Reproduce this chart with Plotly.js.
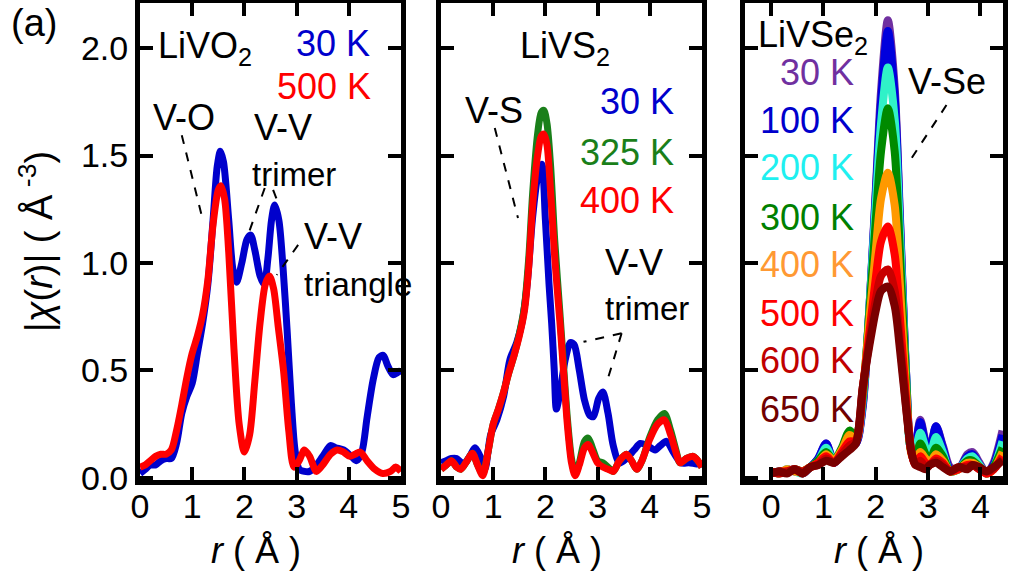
<!DOCTYPE html>
<html>
<head>
<meta charset="utf-8">
<script src="https://cdn.plot.ly/plotly-3.0.1.min.js"></script>
<style>html,body{margin:0;padding:0;background:#fff;}#chart{width:1016px;height:587px;}</style>
</head>
<body>
<div id="chart"></div>
<script>
// ---------- Panel 1: LiVO2 ----------
const rVO_30 = [0,0.1,0.2,0.3,0.4,0.5,0.6,0.7,0.8,0.9,1.0,1.1,1.2,1.3,1.4,1.48,1.54,1.6,1.7,1.78,1.85,1.95,2.05,2.12,2.2,2.3,2.38,2.45,2.52,2.58,2.66,2.74,2.82,2.9,2.97,3.05,3.15,3.25,3.35,3.5,3.65,3.75,3.9,4.05,4.15,4.25,4.35,4.47,4.58,4.66,4.75,4.85,4.93,5.0];
const chiVO_30 = [0.02,0.04,0.06,0.06,0.08,0.09,0.09,0.16,0.3,0.38,0.44,0.58,0.72,0.9,1.2,1.45,1.52,1.47,1.2,0.97,0.91,1.0,1.11,1.13,1.06,0.94,0.9,1.02,1.2,1.27,1.2,0.98,0.68,0.35,0.13,0.04,0.03,0.03,0.05,0.1,0.15,0.14,0.13,0.1,0.08,0.12,0.28,0.46,0.56,0.57,0.52,0.48,0.49,0.5];
const rVO_500 = [0,0.1,0.2,0.3,0.4,0.5,0.6,0.7,0.8,0.9,1.0,1.1,1.2,1.3,1.4,1.5,1.55,1.62,1.7,1.8,1.9,2.0,2.1,2.2,2.3,2.4,2.48,2.56,2.65,2.75,2.85,2.95,3.05,3.15,3.25,3.38,3.5,3.65,3.78,3.9,4.02,4.12,4.22,4.35,4.5,4.65,4.8,4.9,5.0];
const chiVO_500 = [0.05,0.06,0.08,0.1,0.11,0.11,0.13,0.22,0.34,0.47,0.58,0.66,0.76,0.92,1.18,1.34,1.36,1.3,1.05,0.6,0.25,0.12,0.2,0.45,0.72,0.9,0.94,0.88,0.7,0.5,0.22,0.05,0.08,0.13,0.1,0.03,0.06,0.11,0.13,0.12,0.1,0.11,0.12,0.08,0.04,0.02,0.03,0.05,0.03];

// ---------- Panel 2: LiVS2 ----------
const rVS_30 = [0,0.1,0.2,0.3,0.43,0.55,0.65,0.75,0.84,0.95,1.07,1.2,1.32,1.45,1.55,1.65,1.75,1.85,1.93,2.0,2.07,2.12,2.17,2.21,2.28,2.38,2.48,2.55,2.65,2.75,2.85,2.92,3.02,3.1,3.2,3.3,3.42,3.55,3.7,3.82,3.95,4.1,4.2,4.32,4.45,4.6,4.75,4.9,5.0];
const chiVS_30 = [0.07,0.08,0.09,0.09,0.065,0.1,0.14,0.1,0.04,0.2,0.27,0.38,0.55,0.63,0.72,0.9,1.2,1.4,1.46,1.2,0.9,0.72,0.5,0.32,0.4,0.55,0.63,0.62,0.5,0.36,0.29,0.285,0.37,0.4,0.3,0.15,0.07,0.09,0.13,0.16,0.15,0.13,0.15,0.17,0.12,0.07,0.07,0.065,0.065];
const rVS_hot = [0,0.1,0.2,0.3,0.38,0.5,0.6,0.7,0.8,0.9,1.0,1.1,1.2,1.3,1.4,1.5,1.6,1.68,1.76,1.85,1.92,1.97,2.03,2.1,2.18,2.28,2.36,2.42,2.5,2.57,2.65,2.75,2.82,2.9,3.0,3.1,3.2,3.3,3.42,3.55,3.65,3.75,3.85,4.0,4.15,4.28,4.4,4.5,4.58,4.7,4.83,4.92,5.0];
const chiVS_325 = [0.04,0.06,0.08,0.05,0.04,0.08,0.115,0.06,0.02,0.12,0.25,0.32,0.4,0.49,0.57,0.67,0.8,1.02,1.34,1.6,1.7,1.71,1.65,1.45,1.1,0.76,0.48,0.28,0.09,0.02,0.07,0.17,0.185,0.14,0.08,0.07,0.05,0.03,0.08,0.11,0.08,0.04,0.08,0.19,0.27,0.3,0.22,0.13,0.07,0.09,0.1,0.08,0.05];
const chiVS_400 = [0.04,0.06,0.08,0.05,0.04,0.08,0.115,0.06,0.01,0.12,0.25,0.32,0.4,0.49,0.57,0.66,0.78,0.98,1.28,1.5,1.59,1.6,1.55,1.33,1.02,0.72,0.45,0.25,0.07,0.01,0.06,0.14,0.155,0.12,0.07,0.05,0.04,0.03,0.08,0.11,0.08,0.04,0.08,0.18,0.25,0.27,0.2,0.12,0.07,0.09,0.1,0.08,0.05];

// ---------- Panel 3: LiVSe2 ----------
const rVSe = [0,0.15,0.3,0.45,0.6,0.75,0.9,1.05,1.2,1.35,1.5,1.62,1.75,1.88,2.0,2.1,2.23,2.36,2.46,2.58,2.68,2.76,2.85,2.95,3.03,3.15,3.28,3.42,3.58,3.75,3.85,3.98,4.12,4.25,4.42];
const chiVSe_30  = [0.03,0.02,0.04,0.03,0.03,0.05,0.09,0.16,0.08,0.11,0.18,0.16,0.33,0.8,1.34,1.8,2.13,1.82,1.22,0.48,0.13,0.16,0.27,0.17,0.13,0.24,0.15,0.05,0.04,0.11,0.12,0.07,0.02,0.07,0.22];
const chiVSe_100 = [0.02,0.03,0.03,0.04,0.02,0.05,0.09,0.16,0.07,0.12,0.19,0.16,0.34,0.8,1.32,1.75,2.08,1.78,1.2,0.48,0.13,0.16,0.26,0.16,0.13,0.24,0.14,0.04,0.04,0.1,0.11,0.06,0.02,0.06,0.2];
const chiVSe_200 = [0.03,0.02,0.04,0.03,0.02,0.05,0.08,0.14,0.08,0.12,0.19,0.17,0.36,0.8,1.28,1.65,1.91,1.67,1.15,0.47,0.13,0.14,0.21,0.14,0.1,0.19,0.12,0.03,0.04,0.09,0.1,0.06,0.02,0.05,0.17];
const chiVSe_300 = [0.02,0.03,0.03,0.04,0.03,0.05,0.08,0.12,0.08,0.14,0.22,0.19,0.38,0.78,1.2,1.52,1.72,1.52,1.05,0.45,0.12,0.1,0.16,0.11,0.08,0.14,0.1,0.03,0.04,0.08,0.08,0.05,0.02,0.05,0.14];
const chiVSe_400 = [0.03,0.02,0.04,0.03,0.03,0.05,0.07,0.11,0.08,0.13,0.2,0.18,0.4,0.74,1.06,1.3,1.42,1.27,0.9,0.4,0.11,0.07,0.12,0.09,0.07,0.11,0.08,0.03,0.04,0.07,0.07,0.05,0.02,0.04,0.12];
const chiVSe_500 = [0.02,0.03,0.03,0.04,0.02,0.05,0.07,0.1,0.07,0.12,0.17,0.17,0.41,0.68,0.93,1.1,1.17,1.04,0.75,0.36,0.12,0.06,0.1,0.07,0.06,0.09,0.07,0.03,0.04,0.06,0.06,0.04,0.02,0.04,0.1];
const chiVSe_600 = [0.03,0.02,0.03,0.04,0.03,0.05,0.06,0.09,0.07,0.11,0.15,0.17,0.42,0.64,0.83,0.94,0.97,0.87,0.64,0.33,0.12,0.06,0.08,0.05,0.06,0.08,0.06,0.03,0.05,0.05,0.06,0.04,0.03,0.04,0.09];
const chiVSe_650 = [0.02,0.03,0.02,0.04,0.02,0.05,0.06,0.08,0.07,0.1,0.13,0.16,0.42,0.62,0.78,0.87,0.89,0.8,0.6,0.32,0.12,0.06,0.05,0.04,0.06,0.07,0.05,0.03,0.05,0.04,0.06,0.05,0.03,0.05,0.08];

const seLabels = ['30 K','100 K','200 K','300 K','400 K','500 K','600 K','650 K'];
const seSeries = [chiVSe_30,chiVSe_100,chiVSe_200,chiVSe_300,chiVSe_400,chiVSe_500,chiVSe_600,chiVSe_650];
const seLineColors = ['#7030a0','#0000dd','#30f2c8','#008a00','#ff9900','#ff0000','#c80000','#7a0000'];
const seTextColors = ['#7030a0','#0000cc','#1ff0f0','#008000','#ff9933','#ff0000','#c00000','#700000'];

const xTicks12 = [0,1,2,3,4,5];
const xTicks3 = [0,1,2,3,4];
const yTicks = [0,0.5,1,1.5,2];
const yTickText = ['0.0','0.5','1.0','1.5','2.0'];
const xTitle = '<i>r</i> ( Å )';
const yTitle = '|<i>χ</i>(<i>r</i>)| ( Å<sup> -3</sup>)';

const FONT = 'Liberation Sans, Arial, sans-serif';
const LW = 7;

function line(x, y, color, xa, ya, w) {
  return {x: x, y: y, type: 'scatter', mode: 'lines', xaxis: xa, yaxis: ya,
          line: {color: color, width: w || LW, shape: 'spline', smoothing: 0.8},
          hoverinfo: 'skip', showlegend: false};
}

const traces = [
  line(rVO_30, chiVO_30, '#0000cc', 'x', 'y'),
  line(rVO_500, chiVO_500, '#ff0000', 'x', 'y'),
  line(rVS_30, chiVS_30, '#0000cc', 'x2', 'y2'),
  line(rVS_hot, chiVS_325, '#1a7f1a', 'x2', 'y2'),
  line(rVS_hot, chiVS_400, '#ff0000', 'x2', 'y2')
];
seSeries.forEach((s, i) => traces.push(line(rVSe, s, seLineColors[i], 'x3', 'y3', 8)));

function xax(domain, range, ticks) {
  return {domain: domain, range: range, tickvals: ticks, ticktext: ticks.map(String),
          ticks: 'inside', ticklen: 13, tickwidth: 4, tickcolor: '#000',
          showline: true, linewidth: 5, linecolor: '#000', mirror: 'ticks',
          showgrid: false, zeroline: false, ticklabelstandoff: -8,
          tickfont: {family: FONT, size: 34, color: '#000'}};
}
function yax(anchor, showLabels) {
  const a = {anchor: anchor, range: [-0.01, 2.21], tickvals: yTicks, ticktext: yTickText,
          showticklabels: showLabels,
          ticks: 'inside', ticklen: 13, tickwidth: 4, tickcolor: '#000',
          showline: true, linewidth: 5, linecolor: '#000', mirror: 'ticks',
          showgrid: false, zeroline: false,
          tickfont: {family: FONT, size: 34, color: '#000'}};
  if (showLabels) a.title = {text: yTitle, font: {family: FONT, size: 38, color: '#000'}, standoff: 18};
  return a;
}

function ann(text, x, y, xref, yref, color, size, xanchor) {
  return {text: text, x: x, y: y, xref: xref, yref: yref, showarrow: false,
          xanchor: xanchor || 'left', yanchor: 'middle',
          font: {family: FONT, size: size || 36, color: color || '#000'}};
}
function dash(x0, y0, x1, y1, xref, yref) {
  return {type: 'line', x0: x0, y0: y0, x1: x1, y1: y1, xref: xref, yref: yref,
          line: {color: '#000', width: 2, dash: 'dash'}};
}

// paper coordinate helpers (plot area: x 140..1003, y 3..480)
const px = v => (v - 140) / 863;
const py = v => 1 - (v - 3) / 477;

const annotations = [
  ann('(a)', px(34), py(23), 'paper', 'paper', '#000', 38, 'center'),
  ann(xTitle, px(256), py(550), 'paper', 'paper', '#000', 36, 'center'),
  ann(xTitle, px(557), py(550), 'paper', 'paper', '#000', 36, 'center'),
  ann(xTitle, px(879), py(550), 'paper', 'paper', '#000', 36, 'center'),
  // panel 1
  ann('LiVO<sub>2</sub>', 0.31, 2.0, 'x', 'y'),
  ann('30 K', 4.44, 2.02, 'x', 'y', '#0000cc', 36, 'right'),
  ann('500 K', 4.46, 1.82, 'x', 'y', '#ff0000', 36, 'right'),
  ann('V-O', 0.22, 1.675, 'x', 'y'),
  ann('V-V', 2.14, 1.63, 'x', 'y'),
  ann('trimer', 2.11, 1.41, 'x', 'y', '#000', 33),
  ann('V-V', 3.1, 1.125, 'x', 'y'),
  ann('triangle', 3.1, 0.9, 'x', 'y', '#000', 33),
  // panel 2
  ann('LiVS<sub>2</sub>', 1.48, 2.0, 'x2', 'y2'),
  ann('V-S', 0.43, 1.71, 'x2', 'y2'),
  ann('30 K', 4.51, 1.75, 'x2', 'y2', '#0000cc', 36, 'right'),
  ann('325 K', 4.51, 1.516, 'x2', 'y2', '#1a7f1a', 36, 'right'),
  ann('400 K', 4.51, 1.29, 'x2', 'y2', '#ff0000', 36, 'right'),
  ann('V-V', 3.11, 1.0, 'x2', 'y2'),
  ann('trimer', 3.11, 0.79, 'x2', 'y2', '#000', 33),
  // panel 3
  ann('LiVSe<sub>2</sub>', -0.29, 2.05, 'x3', 'y3'),
  ann('V-Se', 2.58, 1.847, 'x3', 'y3')
];
const seLabelY = [1.886, 1.665, 1.445, 1.214, 0.995, 0.767, 0.544, 0.316];
seLabels.forEach((t, i) => annotations.push(ann(t, 1.625, seLabelY[i], 'x3', 'y3', seTextColors[i], 36, 'right')));

const shapes = [
  dash(0.8, 1.595, 1.21, 1.193, 'x', 'y'),
  dash(2.39, 1.349, 2.09, 1.144, 'x', 'y'),
  dash(2.55, 1.34, 2.64, 1.284, 'x', 'y'),
  dash(3.03, 1.084, 2.62, 0.944, 'x', 'y'),
  dash(1.03, 1.628, 1.475, 1.209, 'x2', 'y2'),
  dash(3.46, 0.673, 2.73, 0.633, 'x2', 'y2'),
  dash(3.46, 0.673, 3.17, 0.44, 'x2', 'y2'),
  dash(3.35, 1.735, 2.64, 1.472, 'x3', 'y3')
];

const layout = {
  width: 1016, height: 587,
  margin: {l: 140, r: 13, t: 3, b: 107},
  paper_bgcolor: '#fff', plot_bgcolor: '#fff',
  font: {family: FONT, color: '#000'},
  showlegend: false,
  xaxis: Object.assign(xax([0, 0.3024], [0, 5], xTicks12), {anchor: 'y'}),
  xaxis2: Object.assign(xax([0.3488, 0.6512], [0, 5], xTicks12), {anchor: 'y2'}),
  xaxis3: Object.assign(xax([0.7010, 1], [-0.5, 4.43], xTicks3), {anchor: 'y3'}),
  yaxis: yax('x', true),
  yaxis2: yax('x2', false),
  yaxis3: yax('x3', false),
  annotations: annotations,
  shapes: shapes
};

Plotly.newPlot('chart', traces, layout, {displayModeBar: false, staticPlot: true});
</script>
</body>
</html>
